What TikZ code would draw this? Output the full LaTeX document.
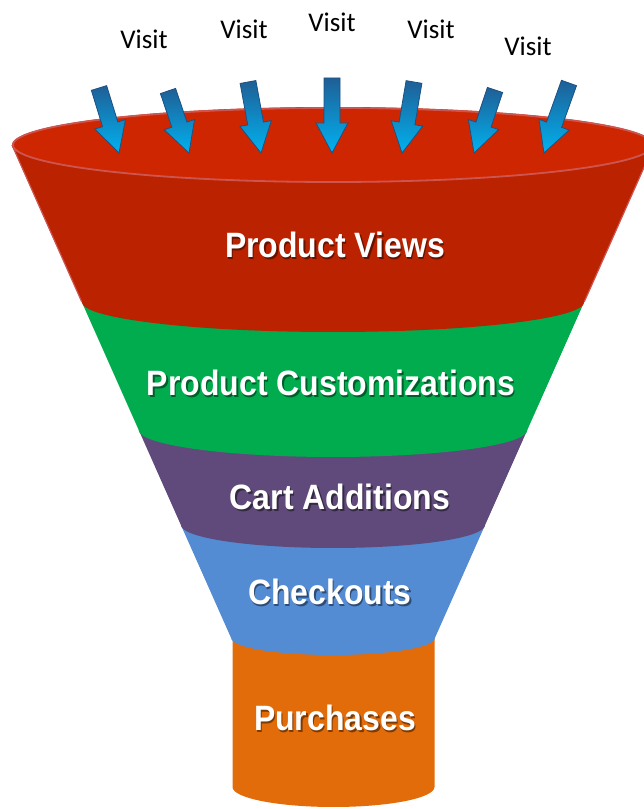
\documentclass[tikz,border=0pt]{standalone}
\usepackage{fontspec}
\newfontfamily\visitfont{Carlito}
\newfontfamily\labelfont{Liberation Sans}[BoldFont={* Bold}]
\definecolor{redtop}{RGB}{206,38,0}
\definecolor{redbody}{RGB}{186,34,0}
\definecolor{rimred}{RGB}{205,85,80}
\definecolor{fgreen}{RGB}{0,172,78}
\definecolor{fpurple}{RGB}{96,74,123}
\definecolor{fblue}{RGB}{84,140,212}
\definecolor{forange}{RGB}{226,107,10}
\definecolor{arrdark}{RGB}{31,95,150}
\definecolor{arrlight}{RGB}{0,178,240}
\definecolor{arredge}{RGB}{30,80,130}
\tikzset{
  visit/.style={font=\visitfont\fontsize{27}{31}\selectfont, text=black, inner sep=0pt},
  band/.style={font=\labelfont\bfseries\fontsize{32}{36}\selectfont, text=white, inner sep=0pt, yscale=1.1},
  bandshadow/.style={band, text=black, opacity=0.45},
  pics/barrow/.style={code={
    \shade[top color=arrdark, bottom color=arrlight, draw=arredge, line width=0.8pt]
      (-8,0) -- (-8,-#1+30) -- (-16,-#1+30) -- (0,-#1) -- (16,-#1+30) -- (8,-#1+30) -- (8,0) -- cycle;
  }}
}
\begin{document}
\begin{tikzpicture}[x=1pt,y=1pt]
\useasboundingbox (0,0) rectangle (644,809);
\clip (0,0) rectangle (644,809);
% orange cylinder
\fill[forange] (232.5,175) -- (232.5,22) arc[start angle=180, end angle=360, x radius=101, y radius=20] -- (434.5,175) -- cycle;
% blue band
\fill[fblue] (180.9,284) -- (231.1,171) arc[start angle=180, end angle=360, x radius=101.9, y radius=17] -- (434.9,171) -- (485.1,284) -- cycle;
% purple band
\fill[fpurple] (138.7,379) -- (180.9,284) arc[start angle=180, end angle=360, x radius=152.1, y radius=23] -- (485.1,284) -- (527.3,379) -- cycle;
% green band
\fill[fgreen] (81.8,507) -- (138.7,379) arc[start angle=180, end angle=360, x radius=194.3, y radius=27] -- (527.3,379) -- (584.2,507) -- cycle;
% red band
\fill[redbody] (12,664) -- (81.8,507) arc[start angle=180, end angle=360, x radius=251.2, y radius=30] -- (584.2,507) -- (654,664) -- cycle;
\draw[rimred, line width=1.2pt] (12,664) -- (81.8,507);
\draw[rimred, line width=1.2pt] (654,664) -- (584.2,507);
% top ellipse
\fill[redtop] (333,664) ellipse[x radius=321, y radius=38];
\draw[rimred, line width=1.8pt] (333,664) ellipse[x radius=320, y radius=37];
% arrows
\pic[rotate=17.1] at (99,721) {barrow=68};
\pic[rotate=18.7] at (168,718) {barrow=65.5};
\pic[rotate=10.4] at (248,727) {barrow=72.2};
\pic at (332,731) {barrow=75};
\pic[rotate=-9.6] at (414,727) {barrow=72};
\pic[rotate=-18.4] at (495,719) {barrow=66.4};
\pic[rotate=-19.7] at (569,726) {barrow=74.3};
% visit labels
\node[visit] (v1) at (144,770) {Visit};
\node[visit] (v2) at (244,780) {Visit};
\node[visit] (v3) at (332,787) {Visit};
\node[visit] (v4) at (431,780) {Visit};
\node[visit] (v5) at (528,763) {Visit};
% band labels with shadow
\node[bandshadow] (s1) at (336.5,562.5) {Product Views};
\node[band] (l1) at (335,564) {Product Views};
\node[bandshadow] (s2) at (332.5,424.5) {Product Customizations};
\node[band] (l2) at (331,426) {Product Customizations};
\node[bandshadow] (s3) at (341.5,310.5) {Cart Additions};
\node[band] (l3) at (340,312) {Cart Additions};
\node[bandshadow] (s4) at (331.5,215.5) {Checkouts};
\node[band] (l4) at (330,217) {Checkouts};
\node[bandshadow] (s5) at (336.5,89.5) {Purchases};
\node[band] (l5) at (335,91) {Purchases};
\end{tikzpicture}
\end{document}
